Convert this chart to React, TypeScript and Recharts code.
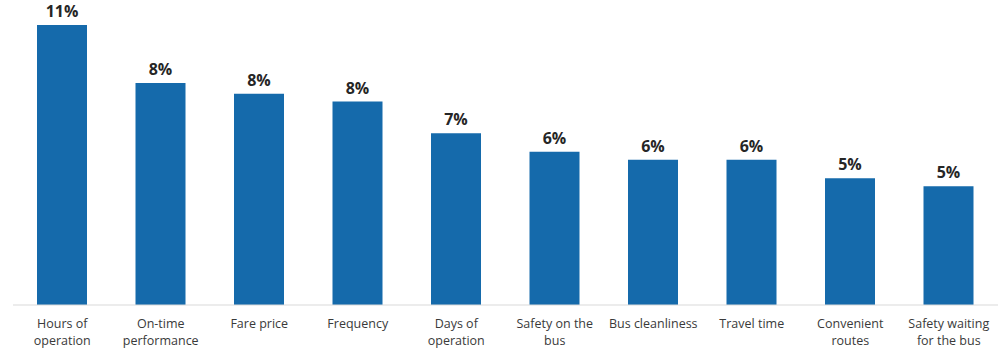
import React from "react";
import { BarChart, Bar, XAxis, YAxis, LabelList } from "recharts";

const categories = [
  "Hours of\noperation",
  "On-time\nperformance",
  "Fare price",
  "Frequency",
  "Days of\noperation",
  "Safety on the\nbus",
  "Bus cleanliness",
  "Travel time",
  "Convenient\nroutes",
  "Safety waiting\nfor the bus",
];
const values = [10.6, 8.4, 8.0, 7.7, 6.5, 5.8, 5.5, 5.5, 4.8, 4.5];

const data = categories.map((c, i) => ({ name: c, value: values[i] }));

const FONT = "'Open Sans', 'Liberation Sans', sans-serif";

const Tick = (props: any) => {
  const { x, payload } = props;
  const lines = String(payload.value).split("\n");
  return (
    <g transform={`translate(${x},305)`}>
      {lines.map((l, i) => (
        <text
          key={i}
          x={0}
          y={23 + i * 17}
          textAnchor="middle"
          fontFamily={FONT}
          fontSize={12.5}
          fill="#3a3a3a"
        >
          {l}
        </text>
      ))}
    </g>
  );
};

export default function App() {
  return (
    <div style={{ position: "absolute", left: 0, top: 0, background: "#fff" }}>
      <BarChart
        width={1001}
        height={352}
        data={data}
        margin={{ top: 25, right: 3, left: 13, bottom: 0 }}
      >
        <XAxis
          dataKey="name"
          tickLine={false}
          axisLine={{ stroke: "#d9d9d9", strokeWidth: 1 }}
          tick={<Tick />}
          interval={0}
          height={47}
        />
        <YAxis hide domain={[0, 10.6]} />
        <Bar dataKey="value" fill="#156aab" barSize={50} isAnimationActive={false}>
          <LabelList
            dataKey="value"
            position="top"
            offset={8}
            formatter={(v: any) => `${Math.round(Number(v))}%`}
            style={{ fontFamily: FONT, fontSize: 16, fontWeight: 700, fill: "#262626" }}
          />
        </Bar>
      </BarChart>
    </div>
  );
}
